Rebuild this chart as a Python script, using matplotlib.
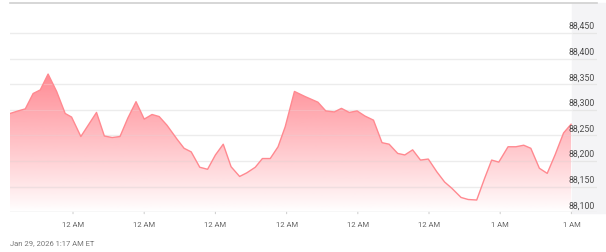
import matplotlib.pyplot as plt
import matplotlib.patches as mpatches
import numpy as np

plt.rcParams['font.family'] = ['Roboto', 'DejaVu Sans']

# minutes from the first "12 AM" tick, and price
minutes = [-8.85, -7.7, -6.7, -5.6, -4.6, -3.5, -2.3, -1.1, -0.2, 1.1,
           3.3, 4.4, 5.5, 6.6, 7.7, 8.85, 10.0, 11.1, 12.1, 13.2,
           14.6, 15.6, 16.6, 17.8, 18.9, 20.0, 21.1, 22.2, 23.4, 24.4,
           25.6, 26.6, 27.7, 28.8, 29.8, 31.1, 32.6, 34.4, 35.5, 36.7,
           37.7, 38.8, 39.9, 41.0, 42.2, 43.4, 44.4, 45.6, 46.6, 47.7,
           48.8, 49.9, 51.1, 52.2, 53.2, 54.5, 55.5, 56.7, 57.8, 58.8,
           59.8, 61.1, 62.2, 63.3, 64.3, 65.5, 66.6, 67.7, 68.9, 69.95]
price = [88293, 88298, 88302, 88332, 88339, 88370, 88336, 88293, 88286, 88248,
         88295, 88249, 88246, 88248, 88284, 88316, 88282, 88291, 88287, 88270,
         88243, 88225, 88218, 88188, 88184, 88212, 88233, 88189, 88170, 88177,
         88188, 88205, 88205, 88228, 88267, 88336, 88326, 88315, 88298, 88296,
         88303, 88295, 88298, 88288, 88280, 88236, 88233, 88215, 88212, 88222,
         88202, 88204, 88179, 88159, 88147, 88129, 88125, 88124, 88166, 88202,
         88198, 88228, 88228, 88231, 88225, 88186, 88176, 88212, 88255, 88272]

tick_pos = [0, 10, 20, 30, 40, 50, 60, 70]
tick_labels = ["12 AM"] * 6 + ["1 AM"] * 2
y_ticks = [88100, 88150, 88200, 88250, 88300, 88350, 88400, 88450]
stamp = "Jan 29, 2026 1:17 AM ET"

W, H = 606, 252
fig = plt.figure(figsize=(W / 100, H / 100), dpi=100)

# gray price panel on the right
fig.patches.append(mpatches.Rectangle((572 / W, (H - 213) / H), 34 / W, 210 / H,
                                      transform=fig.transFigure, color="#f4f4f6",
                                      zorder=-1))

ax = fig.add_axes([10 / W, (H - 212.3) / H, 587 / W, 209.3 / H])
ax.patch.set_alpha(0)
px_per_min = 7.12
x0 = -8.85
x_right = x0 + 587 / px_per_min
x_data_end = x0 + 562 / px_per_min
ax.set_xlim(x0, x_right)
ax.set_ylim(88100, 88100 + 209.3 * 1.953)

for s in ax.spines.values():
    s.set_visible(False)
ax.set_xticks([])
ax.set_yticks([])

# grid
for v in y_ticks:
    ax.axhline(v, color="#e6e6e6", lw=0.9, zorder=0)
    ax.axhline(v, xmax=(x_data_end - x0) / (x_right - x0), color="white",
               alpha=0.25, lw=0.9, zorder=1.5)
    ax.text(x_right - 0.3, v + 4, f"{v:,}", ha="right", va="bottom",
            fontsize=6.3, color="#4a4a4a")
ax.axhline(88100, xmax=(x_data_end - x0) / (x_right - x0), color="#dcdcdc", lw=0.9, zorder=3)
ax.axhline(ax.get_ylim()[1], color="#d0d0d0", lw=1.2, zorder=3, clip_on=False)

# gradient fill
grad = np.linspace(0, 1, 256)
top = np.array([255, 128, 138]) / 255
img = np.ones((256, 1, 4))
img[:, 0, :3] = top
img[:, 0, 3] = grad ** 0.95 * 0.92
peak = max(price)
im = ax.imshow(img, extent=[x0, x_data_end, 88100, peak], origin="lower",
               aspect="auto", zorder=1)
clip = mpatches.Polygon(np.column_stack([[minutes[0]] + minutes + [minutes[-1]],
                                         [88100] + price + [88100]]),
                        transform=ax.transData, facecolor="none", edgecolor="none")
ax.add_patch(clip)
im.set_clip_path(clip)
ax.plot(minutes, price, color="#ff8990", lw=1.0, zorder=2)

# x ticks
for t, lab in zip(tick_pos, tick_labels):
    ax.annotate("", xy=(t, 88100), xytext=(0, -3), textcoords="offset points",
                arrowprops=dict(arrowstyle="-", color="#d0d0d0", lw=0.8))
    ax.annotate(lab, xy=(t, 88100), xytext=(0, -7), textcoords="offset points",
                ha="center", va="top", fontsize=5.5, color="#666666")

fig.text(10 / W, 1 - 243 / H, stamp, ha="left", va="center", fontsize=5.5,
         color="#777777")

fig.savefig("out.png", dpi=100)
